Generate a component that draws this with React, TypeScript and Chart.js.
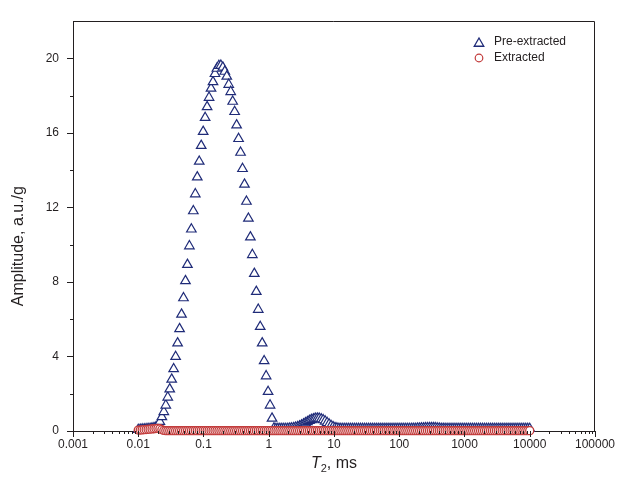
import React, { useEffect, useRef } from "react";
import { Chart, registerables } from "chart.js";

Chart.register(...registerables);

// T2 relaxation-time bins of the inversion (log-spaced instrument grid, ms)
const T2_MIN = 0.01;
const T2_MAX = 10000;
const T2_COUNT = 200;
const t2Bins: number[] = Array.from({ length: T2_COUNT }, (_, i) =>
  T2_MIN * Math.pow(T2_MAX / T2_MIN, i / (T2_COUNT - 1))
);

// Amplitude, a.u./g — Pre-extracted (one value per T2 bin)
const preExtracted: number[] = [
  0.07, 0.08, 0.09, 0.10, 0.11, 0.12, 0.13, 0.15, 0.17, 0.20,
  0.24, 0.50, 0.76, 1.03, 1.38, 1.81, 2.25, 2.77, 3.33, 3.99,
  4.72, 5.48, 6.26, 7.14, 8.06, 8.93, 9.93, 10.83, 11.81, 12.72,
  13.63, 14.47, 15.32, 16.07, 16.82, 17.40, 17.90, 18.39, 18.74, 19.18,
  19.46, 19.61, 19.62, 19.52, 19.30, 19.04, 18.60, 18.21, 17.69, 17.14,
  16.42, 15.69, 14.95, 14.08, 13.24, 12.32, 11.41, 10.41, 9.46, 8.45,
  7.48, 6.52, 5.60, 4.72, 3.76, 2.95, 2.11, 1.38, 0.68, 0.15,
  0.12, 0.12, 0.12, 0.12, 0.12, 0.12, 0.13, 0.14, 0.15, 0.17,
  0.19, 0.22, 0.26, 0.31, 0.37, 0.43, 0.49, 0.55, 0.60, 0.64,
  0.67, 0.68, 0.67, 0.64, 0.59, 0.52, 0.44, 0.36, 0.28, 0.22,
  0.17, 0.15, 0.13, 0.12, 0.12, 0.12, 0.12, 0.12, 0.12, 0.12,
  0.12, 0.12, 0.12, 0.12, 0.12, 0.12, 0.12, 0.12, 0.12, 0.12,
  0.12, 0.12, 0.12, 0.12, 0.12, 0.12, 0.12, 0.12, 0.12, 0.12,
  0.12, 0.12, 0.12, 0.12, 0.12, 0.12, 0.12, 0.12, 0.12, 0.13,
  0.13, 0.13, 0.14, 0.14, 0.15, 0.15, 0.16, 0.16, 0.17, 0.17,
  0.17, 0.16, 0.15, 0.14, 0.13, 0.13, 0.12, 0.12, 0.12, 0.12,
  0.12, 0.12, 0.12, 0.12, 0.12, 0.12, 0.12, 0.12, 0.12, 0.12,
  0.12, 0.12, 0.12, 0.12, 0.12, 0.12, 0.12, 0.12, 0.12, 0.12,
  0.12, 0.12, 0.12, 0.12, 0.12, 0.12, 0.12, 0.12, 0.12, 0.12,
  0.12, 0.12, 0.12, 0.12, 0.12, 0.12, 0.12, 0.12, 0.12, 0.12,
];

// Amplitude, a.u./g — Extracted (one value per T2 bin)
const extracted: number[] = [
  0.05, 0.05, 0.06, 0.07, 0.08, 0.09, 0.10, 0.11, 0.12, 0.13,
  0.14, 0.12, 0.07, 0.03, 0.02, 0.02, 0.02, 0.02, 0.02, 0.02,
  0.02, 0.02, 0.02, 0.02, 0.02, 0.02, 0.02, 0.02, 0.02, 0.02,
  0.02, 0.02, 0.02, 0.02, 0.02, 0.02, 0.02, 0.02, 0.02, 0.02,
  0.02, 0.02, 0.02, 0.02, 0.02, 0.02, 0.02, 0.02, 0.02, 0.02,
  0.02, 0.02, 0.02, 0.02, 0.02, 0.02, 0.02, 0.02, 0.02, 0.02,
  0.02, 0.02, 0.02, 0.02, 0.02, 0.02, 0.02, 0.02, 0.02, 0.02,
  0.02, 0.02, 0.02, 0.02, 0.02, 0.02, 0.02, 0.02, 0.02, 0.02,
  0.02, 0.02, 0.02, 0.02, 0.02, 0.02, 0.02, 0.02, 0.02, 0.02,
  0.02, 0.02, 0.02, 0.02, 0.02, 0.02, 0.02, 0.02, 0.02, 0.02,
  0.02, 0.02, 0.02, 0.02, 0.02, 0.02, 0.02, 0.02, 0.02, 0.02,
  0.02, 0.02, 0.02, 0.02, 0.02, 0.02, 0.02, 0.02, 0.02, 0.02,
  0.02, 0.02, 0.02, 0.02, 0.02, 0.02, 0.02, 0.02, 0.02, 0.02,
  0.02, 0.02, 0.02, 0.02, 0.02, 0.02, 0.02, 0.02, 0.02, 0.02,
  0.02, 0.02, 0.02, 0.02, 0.02, 0.02, 0.02, 0.02, 0.02, 0.02,
  0.02, 0.02, 0.02, 0.02, 0.02, 0.02, 0.02, 0.02, 0.02, 0.02,
  0.02, 0.02, 0.02, 0.02, 0.02, 0.02, 0.02, 0.02, 0.02, 0.02,
  0.02, 0.02, 0.02, 0.02, 0.02, 0.02, 0.02, 0.02, 0.02, 0.02,
  0.02, 0.02, 0.02, 0.02, 0.02, 0.02, 0.02, 0.02, 0.02, 0.02,
  0.02, 0.02, 0.02, 0.02, 0.02, 0.02, 0.02, 0.02, 0.02, 0.02,
];

const seriesNames = ["Pre-extracted", "Extracted"];
const xDecades = [0.001, 0.01, 0.1, 1, 10, 100, 1000, 10000, 100000];
const xTickLabels = ["0.001", "0.01", "0.1", "1", "10", "100", "1000", "10000", "100000"];
const yTickValues = [0, 4, 8, 12, 16, 20];
const yTickLabels = ["0", "4", "8", "12", "16", "20"];
const yMinorStep = 2;
const yMax = 22;

const FONT = '"Liberation Sans", Arial, sans-serif';
const INK = "#231f20";
const BLUE = "#1f2b78";
const RED = "#c23a3a";

function drawTriangle(ctx: CanvasRenderingContext2D, x: number, y: number, r: number) {
  ctx.beginPath();
  ctx.moveTo(x, y - r);
  ctx.lineTo(x + r * Math.sin(Math.PI / 3), y + r / 2);
  ctx.lineTo(x - r * Math.sin(Math.PI / 3), y + r / 2);
  ctx.closePath();
}

const decorPlugin = {
  id: "decor",
  afterDraw(chart: any) {
    const { ctx, chartArea: a, scales } = chart;
    const xs = scales.x;
    const ys = scales.y;
    ctx.save();
    ctx.strokeStyle = INK;
    ctx.lineWidth = 1;
    // top and right frame
    const top = Math.round(a.top) + 0.5;
    const right = Math.round(a.right) - 0.5;
    ctx.beginPath();
    ctx.moveTo(a.left, top);
    ctx.lineTo(right, top);
    ctx.lineTo(right, a.bottom);
    ctx.stroke();

    // x tick marks (major at decades, minor 2..9)
    const bottom = Math.round(a.bottom);
    for (let d = 0; d < xDecades.length; d++) {
      for (let m = 1; m <= 9; m++) {
        const v = xDecades[d] * m;
        if (v > xDecades[xDecades.length - 1] * 1.0001) continue;
        const px = Math.round(xs.getPixelForValue(v)) + 0.5;
        const len = m === 1 ? 6 : 3;
        ctx.beginPath();
        ctx.moveTo(px, bottom);
        ctx.lineTo(px, bottom + len);
        ctx.stroke();
      }
    }
    // y tick marks
    const left = Math.round(a.left);
    for (let v = 0; v <= yTickValues[yTickValues.length - 1]; v += yMinorStep) {
      const py = Math.round(ys.getPixelForValue(v)) + 0.5;
      const len = yTickValues.includes(v) ? 6 : 3;
      ctx.beginPath();
      ctx.moveTo(left - len, py);
      ctx.lineTo(left, py);
      ctx.stroke();
    }

    // axis titles
    ctx.fillStyle = INK;
    ctx.textBaseline = "alphabetic";
    const big = `16px ${FONT}`;
    const bigItalic = `italic 16px ${FONT}`;
    const sub = `11px ${FONT}`;
    ctx.font = bigItalic;
    const wT = ctx.measureText("T").width;
    ctx.font = sub;
    const w2 = ctx.measureText("2").width;
    ctx.font = big;
    const wRest = ctx.measureText(", ms").width;
    const total = wT + w2 + wRest;
    let tx = (a.left + a.right) / 2 - total / 2;
    const ty = 468;
    ctx.textAlign = "left";
    ctx.font = bigItalic;
    ctx.fillText("T", tx, ty);
    tx += wT;
    ctx.font = sub;
    ctx.fillText("2", tx, ty + 4);
    tx += w2;
    ctx.font = big;
    ctx.fillText(", ms", tx, ty);

    ctx.save();
    ctx.translate(19, (a.top + a.bottom) / 2 + 20);
    ctx.rotate(-Math.PI / 2);
    ctx.textAlign = "center";
    ctx.textBaseline = "middle";
    ctx.font = big;
    ctx.fillText("Amplitude, a.u./g", 0, 0);
    ctx.restore();

    // legend
    const lx = 479;
    const ly1 = 42;
    const ly2 = 58;
    ctx.lineWidth = 1.3;
    ctx.fillStyle = "#fff";
    ctx.strokeStyle = BLUE;
    drawTriangle(ctx, lx, ly1 + 1.5, 5.5);
    ctx.fill();
    ctx.stroke();
    ctx.strokeStyle = RED;
    ctx.lineWidth = 1.2;
    ctx.beginPath();
    ctx.arc(lx, ly2, 3.8, 0, Math.PI * 2);
    ctx.fill();
    ctx.stroke();
    ctx.fillStyle = INK;
    ctx.font = `12px ${FONT}`;
    ctx.textAlign = "left";
    ctx.textBaseline = "middle";
    ctx.fillText(seriesNames[0], 494, ly1);
    ctx.fillText(seriesNames[1], 494, ly2);
    ctx.restore();
  },
};

export default function App() {
  const canvasRef = useRef<HTMLCanvasElement | null>(null);

  useEffect(() => {
    document.body.style.margin = "0";
    document.body.style.background = "#fff";
    const canvas = canvasRef.current;
    if (!canvas) return;
    const chart = new Chart(canvas, {
      type: "scatter",
      data: {
        datasets: [
          {
            label: seriesNames[0],
            data: t2Bins.map((x, i) => ({ x, y: preExtracted[i] })),
            pointStyle: "triangle",
            pointRadius: 5.5,
            pointBorderWidth: 1.2,
            borderColor: BLUE,
            backgroundColor: "#ffffff",
            pointBackgroundColor: "#ffffff",
            pointBorderColor: BLUE,
            showLine: false,
            clip: false,
            order: 1,
          },
          {
            label: seriesNames[1],
            data: t2Bins.map((x, i) => ({ x, y: extracted[i] })),
            pointStyle: "circle",
            pointRadius: 4,
            pointBorderWidth: 1.3,
            borderColor: RED,
            backgroundColor: "#ffffff",
            pointBackgroundColor: "#ffffff",
            pointBorderColor: RED,
            showLine: false,
            clip: false,
            order: 0,
          },
        ],
      },
      options: {
        responsive: false,
        animation: false,
        devicePixelRatio: 1,
        layout: { padding: { top: 11, right: 24, left: 0, bottom: 0 } },
        plugins: {
          legend: { display: false },
          tooltip: { enabled: false },
        },
        events: [],
        scales: {
          x: {
            type: "logarithmic",
            min: xDecades[0],
            max: xDecades[xDecades.length - 1],
            afterBuildTicks: (axis: any) => {
              axis.ticks = xDecades.map((v) => ({ value: v }));
            },
            afterFit: (s: any) => {
              s.height = 63;
            },
            ticks: {
              autoSkip: false,
              maxRotation: 0,
              padding: 6,
              color: INK,
              font: { family: FONT, size: 12 },
              callback: (_v: any, i: number) => xTickLabels[i],
            },
            grid: { display: true, drawOnChartArea: false, drawTicks: false },
            border: { display: true, color: INK, width: 1 },
          },
          y: {
            type: "linear",
            min: 0,
            max: yMax,
            afterBuildTicks: (axis: any) => {
              axis.ticks = yTickValues.map((v) => ({ value: v }));
            },
            afterFit: (s: any) => {
              s.width = 73;
            },
            ticks: {
              padding: 14,
              color: INK,
              font: { family: FONT, size: 12 },
              callback: (_v: any, i: number) => yTickLabels[i],
            },
            grid: { display: true, drawOnChartArea: false, drawTicks: false },
            border: { display: true, color: INK, width: 1 },
          },
        },
      },
      plugins: [decorPlugin],
    });
    return () => chart.destroy();
  }, []);

  return (
    <div style={{ width: 621, height: 494, background: "#fff" }}>
      <canvas ref={canvasRef} width={621} height={494} style={{ display: "block" }} />
    </div>
  );
}
